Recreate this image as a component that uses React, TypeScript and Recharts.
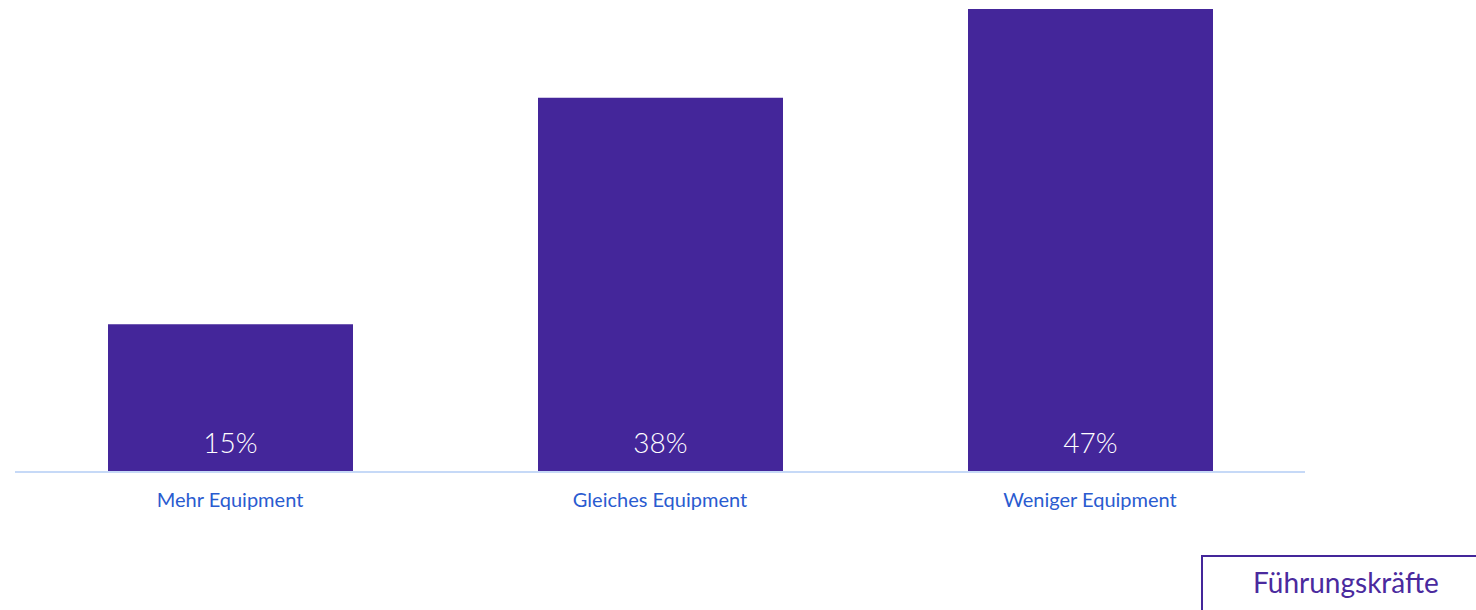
import { BarChart, Bar, XAxis, YAxis, LabelList } from "recharts";

const categories = ["Mehr Equipment", "Gleiches Equipment", "Weniger Equipment"];
const values = [15, 38, 47];
const seriesName = "Führungskräfte";

const data = categories.map((name, i) => ({ name, value: values[i] }));

const BAR_COLOR = "#44269a";
const FONT = "Lato, 'Open Sans', sans-serif";

const LegendBox = () => (
  <div
    style={{
      position: "absolute",
      left: 1201,
      top: 555,
      boxSizing: "border-box",
      width: 320,
      height: 80,
      borderTop: `2px solid ${BAR_COLOR}`,
      borderLeft: `2px solid ${BAR_COLOR}`,
      padding: "8px 0 0 50px",
      fontFamily: FONT,
      fontSize: 28,
      color: "#4a2a9e",
      whiteSpace: "nowrap",
    }}
  >
    {seriesName}
  </div>
);

const App = () => {
  return (
    <div style={{ position: "absolute", top: 0, left: 0, width: 1476, height: 610, background: "#fff", overflow: "hidden" }}>
      <BarChart
        width={1476}
        height={610}
        data={data}
        margin={{ top: 9, right: 171, bottom: 108, left: 15 }}
      >
        <XAxis
          dataKey="name"
          height={30}
          axisLine={{ stroke: "#c6d9f7", strokeWidth: 2 }}
          tickLine={false}
          tick={{ fill: "#2a5bd0", fontSize: 20, fontFamily: FONT }}
          tickMargin={15}
        />
        <YAxis hide domain={[0, 47]} />
        <Bar dataKey="value" name={seriesName} fill={BAR_COLOR} barSize={245} isAnimationActive={false}>
          <LabelList
            dataKey="value"
            position="insideBottom"
            offset={19}
            formatter={(v: number) => `${v}%`}
            fill="#ffffff"
            fontSize={28}
            fontWeight={300}
            fontFamily={FONT}
          />
        </Bar>
      </BarChart>
      <LegendBox />
    </div>
  );
};

export default App;
